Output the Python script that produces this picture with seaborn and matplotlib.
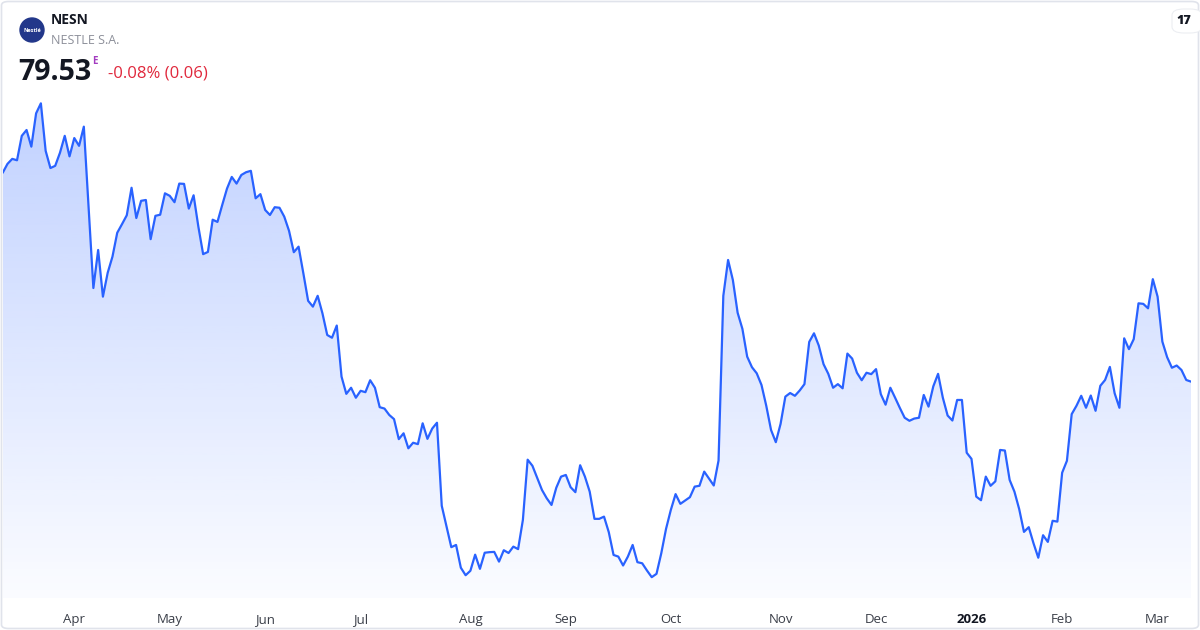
import numpy as np
import matplotlib
matplotlib.use('Agg')
import matplotlib.pyplot as plt
import seaborn as sns
from matplotlib.colors import to_rgb
from matplotlib.patches import Circle, FancyBboxPatch

ticker = 'NESN'
company = 'NESTLE S.A.'
last_price = '79.53'
change_text = '-0.08% (0.06)'

# daily closes (CHF), mid-March 2025 .. mid-March 2026, one value per trading day
close = [
    87.05, 87.37, 87.55, 87.50, 88.38, 88.59, 87.99, 89.19, 89.55, 87.84,
    87.22, 87.30, 87.77, 88.38, 87.64, 88.30, 88.02, 88.71, 85.82, 82.90,
    84.27, 82.59, 83.45, 84.03, 84.89, 85.20, 85.52, 86.51, 85.42, 86.04,
    86.07, 84.66, 85.50, 85.54, 86.31, 86.22, 85.99, 86.66, 86.65, 85.76,
    86.24, 85.11, 84.12, 84.20, 85.36, 85.28, 85.89, 86.48, 86.90, 86.66,
    86.97, 87.07, 87.12, 86.13, 86.28, 85.71, 85.53, 85.81, 85.79, 85.47,
    84.96, 84.19, 84.39, 83.43, 82.44, 82.23, 82.62, 81.99, 81.21, 81.11,
    81.55, 79.71, 79.09, 79.31, 78.95, 79.20, 79.15, 79.58, 79.31, 78.61,
    78.56, 78.33, 78.18, 77.46, 77.67, 77.13, 77.33, 77.28, 78.03, 77.47,
    77.84, 78.05, 75.06, 74.31, 73.57, 73.65, 72.83, 72.56, 72.72, 73.30,
    72.79, 73.37, 73.39, 73.40, 73.05, 73.46, 73.36, 73.59, 73.50, 74.55,
    76.72, 76.50, 76.06, 75.63, 75.33, 75.09, 75.71, 76.11, 76.17, 75.73,
    75.55, 76.52, 76.11, 75.57, 74.59, 74.59, 74.67, 74.11, 73.29, 73.23,
    72.91, 73.23, 73.65, 73.03, 72.99, 72.73, 72.49, 72.61, 73.35, 74.23,
    74.91, 75.48, 75.13, 75.25, 75.37, 75.75, 75.78, 76.29, 76.04, 75.79,
    76.69, 82.62, 83.91, 83.19, 82.01, 81.43, 80.43, 80.05, 79.83, 79.41,
    78.66, 77.79, 77.35, 78.01, 78.99, 79.12, 79.02, 79.21, 79.44, 80.96,
    81.27, 80.83, 80.16, 79.81, 79.31, 79.44, 79.29, 80.54, 80.36, 79.85,
    79.58, 79.85, 79.80, 79.98, 79.08, 78.70, 79.31, 78.95, 78.58, 78.23,
    78.12, 78.20, 78.23, 79.05, 78.63, 79.36, 79.81, 78.95, 78.31, 78.13,
    78.87, 78.87, 76.97, 76.75, 75.39, 75.26, 76.11, 75.78, 75.94, 77.07,
    77.05, 75.99, 75.57, 74.94, 74.12, 74.29, 73.71, 73.19, 74.00, 73.76,
    74.52, 74.49, 76.25, 76.68, 78.36, 78.66, 79.02, 78.59, 79.03, 78.48,
    79.38, 79.59, 80.06, 79.11, 78.59, 81.09, 80.70, 81.06, 82.35, 82.33,
    82.17, 83.22, 82.59, 80.97, 80.41, 80.03, 80.11, 79.95, 79.59, 79.53,
]
day = list(range(len(close)))

# first trading day of each month (index into close)
month_pos = [15, 35, 55, 75, 98, 118, 140, 163, 183, 203, 222, 242]
month_lab = ['Apr', 'May', 'Jun', 'Jul', 'Aug', 'Sep', 'Oct', 'Nov', 'Dec', '2026', 'Feb', 'Mar']

blue = '#2962ff'

sns.set_style('white')
plt.rcParams['font.family'] = ['Open Sans', 'DejaVu Sans']

fig = plt.figure(figsize=(12, 6.3), dpi=100)
ax = fig.add_axes([2.7 / 1200, 32 / 630, (1191 - 2.7) / 1200, (598 - 90) / 630])

ymin, ymax = 71.74, 90.03
sns.lineplot(x=day, y=close, color=blue, linewidth=1.6, ax=ax, zorder=3)

# gradient area under the line
fill = ax.fill_between(day, close, ymin, color='none', linewidth=0)
grad = np.zeros((256, 1, 4))
grad[..., :3] = to_rgb(blue)
grad[..., 3] = np.linspace(0.29, 0.02, 256)[:, None]
im = ax.imshow(grad, extent=[0, len(close) - 1, ymin, max(close)], aspect='auto',
               origin='upper', zorder=1)
im.set_clip_path(fill.get_paths()[0], transform=ax.transData)

ax.set_xlim(0, len(close) - 1)
ax.set_ylim(ymin, ymax)
ax.set_yticks([])
ax.set_xticks(month_pos)
ax.set_xticklabels(month_lab, fontsize=9.5, color='#3a3e48')
for lab in ax.get_xticklabels():
    if lab.get_text() == '2026':
        lab.set_fontweight('bold')
        lab.set_color('#131722')
ax.tick_params(axis='x', length=0, pad=10.5)
ax.set_xlabel('')
ax.set_ylabel('')
for s in ax.spines.values():
    s.set_visible(False)
ax.patch.set_alpha(0)

# frame around the card
fig.patches.append(FancyBboxPatch((1.5 / 1200, 1.5 / 630), 1197 / 1200, 627 / 630,
                                  boxstyle='round,pad=0,rounding_size=0.006',
                                  transform=fig.transFigure, fill=False,
                                  edgecolor='#e0e3eb', linewidth=1.2))

# header
fig.patches.append(Circle((0.32, 6.0), 0.12, transform=fig.dpi_scale_trans,
                          color='#22378a'))
fig.text(32 / 1200, 1 - 30 / 630, 'Nestlé', fontsize=4, color='white', weight='bold',
         ha='center', va='center')
fig.text(51 / 1200, 1 - 20 / 630, ticker, fontsize=10, weight='bold', color='#131722',
         va='center')
fig.text(51 / 1200, 1 - 41 / 630, company, fontsize=9, color='#8c8f99', va='center')
fig.text(18 / 1200, 1 - 72 / 630, last_price, fontsize=20.5, weight='bold', color='#131722',
         va='center')
fig.text(92 / 1200, 1 - 62 / 630, 'E', fontsize=7, color='#a33cc0', va='center', weight='bold')
fig.text(108 / 1200, 1 - 74 / 630, change_text, fontsize=12, color='#e0283c', va='center')

# TradingView badge
fig.patches.append(FancyBboxPatch((1172 / 1200, 1 - 33 / 630), 30 / 1200, 24 / 630,
                                  boxstyle='round,pad=0,rounding_size=0.01',
                                  transform=fig.transFigure, facecolor='white',
                                  edgecolor='#eceef2', linewidth=0.8))
fig.text(1184 / 1200, 1 - 21 / 630, '17', fontsize=9, weight='heavy', color='#131722',
         ha='center', va='center')

fig.savefig('out.png', dpi=100, facecolor='white')
